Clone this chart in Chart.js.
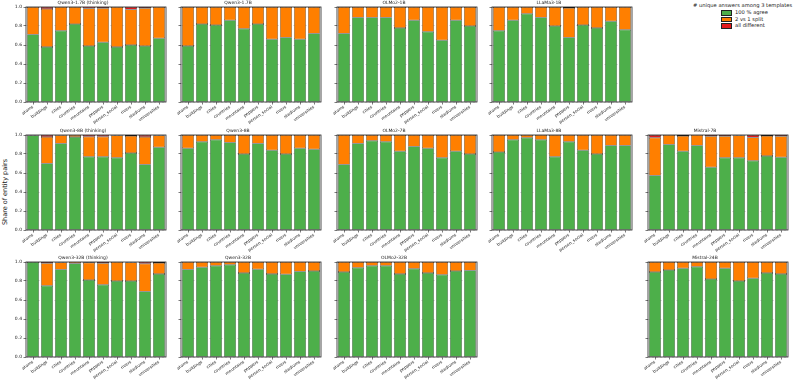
<!DOCTYPE html>
<html>
<head>
<meta charset="utf-8">
<script src="https://cdn.jsdelivr.net/npm/chart.js@4.4.0/dist/chart.umd.min.js"></script>
<style>
  html, body { margin: 0; padding: 0; background: #fff; }
  #fig { position: relative; width: 793px; height: 380px; overflow: hidden; font-family: 'DejaVu Sans', sans-serif; color: #222; }
  #fig canvas { position: absolute; }
  .ylabel { position: absolute; left: 5px; top: 192px; font-size: 6.5px; white-space: nowrap; transform: translate(-50%, -50%) rotate(-90deg); }
  .legend { position: absolute; left: 693px; top: 2px; font-size: 5.2px; }
  .legend .ttl { white-space: nowrap; }
  .legend .item { position: absolute; left: 28px; white-space: nowrap; line-height: 5px; }
  .legend .sw { display: inline-block; width: 9px; height: 3.5px; border: 0.6px solid #222; vertical-align: middle; margin-right: 3px; }
</style>
</head>
<body>
<div id="fig">
  <div class="ylabel">Share of entity pairs</div>
  <div class="legend">
    <div class="ttl"># unique answers among 3 templates</div>
    <div class="item" style="top:8px"><span class="sw" style="background:#4daf4a"></span>100 % agree</div>
    <div class="item" style="top:14.5px"><span class="sw" style="background:#ff7f00"></span>2 vs 1 split</div>
    <div class="item" style="top:21px"><span class="sw" style="background:#e41a1c"></span>all different</div>
  </div>
</div>
<script>
// Категории (общие для всех панелей)
const categories = ['atoms', 'buildings', 'cities', 'countries', 'mountains', 'peppers', 'person_social', 'rivers', 'stadiums', 'universities'];
const seriesNames = ['100 % agree', '2 vs 1 split', 'all different'];
const yTicks = [0.0, 0.2, 0.4, 0.6, 0.8, 1.0];

// Доли по моделям: зелёный / оранжевый / красный
const qwen17bThinkAgree = [0.71, 0.58, 0.75, 0.82, 0.59, 0.63, 0.58, 0.60, 0.59, 0.67];
const qwen17bThinkSplit = [0.29, 0.40, 0.25, 0.18, 0.395, 0.358, 0.42, 0.375, 0.398, 0.33];
const qwen17bThinkDiff  = [0, 0.02, 0, 0, 0.015, 0.012, 0, 0.025, 0.012, 0];

const qwen17bAgree = [0.59, 0.82, 0.81, 0.86, 0.77, 0.82, 0.66, 0.68, 0.66, 0.72];
const qwen17bSplit = [0.41, 0.18, 0.19, 0.14, 0.23, 0.18, 0.34, 0.32, 0.34, 0.28];
const qwen17bDiff  = [0, 0, 0, 0, 0, 0, 0, 0, 0, 0];

const olmo1bAgree = [0.72, 0.89, 0.89, 0.89, 0.78, 0.86, 0.74, 0.65, 0.86, 0.80];
const olmo1bSplit = [0.28, 0.11, 0.11, 0.11, 0.22, 0.14, 0.26, 0.35, 0.14, 0.20];
const olmo1bDiff  = [0, 0, 0, 0, 0, 0, 0, 0, 0, 0];

const llama1bAgree = [0.75, 0.86, 0.93, 0.89, 0.80, 0.68, 0.81, 0.78, 0.85, 0.76];
const llama1bSplit = [0.25, 0.14, 0.07, 0.11, 0.20, 0.31, 0.19, 0.22, 0.15, 0.24];
const llama1bDiff  = [0, 0, 0, 0, 0, 0.01, 0, 0, 0, 0];

const qwen8bThinkAgree = [0.995, 0.70, 0.91, 0.98, 0.77, 0.77, 0.76, 0.81, 0.69, 0.87];
const qwen8bThinkSplit = [0.005, 0.28, 0.087, 0.02, 0.212, 0.212, 0.236, 0.18, 0.29, 0.125];
const qwen8bThinkDiff  = [0, 0.02, 0.003, 0, 0.018, 0.018, 0.004, 0.01, 0.02, 0.005];

const qwen8bAgree = [0.86, 0.93, 0.95, 0.92, 0.80, 0.91, 0.84, 0.80, 0.86, 0.85];
const qwen8bSplit = [0.14, 0.07, 0.05, 0.08, 0.20, 0.09, 0.16, 0.20, 0.14, 0.15];
const qwen8bDiff  = [0, 0, 0, 0, 0, 0, 0, 0, 0, 0];

const olmo7bAgree = [0.69, 0.91, 0.94, 0.93, 0.83, 0.88, 0.86, 0.76, 0.83, 0.80];
const olmo7bSplit = [0.31, 0.09, 0.06, 0.07, 0.17, 0.12, 0.14, 0.24, 0.17, 0.20];
const olmo7bDiff  = [0, 0, 0, 0, 0, 0, 0, 0, 0, 0];

const llama8bAgree = [0.82, 0.95, 0.97, 0.95, 0.77, 0.93, 0.84, 0.80, 0.89, 0.89];
const llama8bSplit = [0.18, 0.05, 0.03, 0.05, 0.23, 0.07, 0.16, 0.20, 0.11, 0.11];
const llama8bDiff  = [0, 0, 0, 0, 0, 0, 0, 0, 0, 0];

const mistral7bAgree = [0.575, 0.90, 0.83, 0.89, 0.66, 0.76, 0.76, 0.73, 0.78, 0.765];
const mistral7bSplit = [0.397, 0.10, 0.16, 0.11, 0.326, 0.226, 0.236, 0.245, 0.21, 0.221];
const mistral7bDiff  = [0.028, 0, 0.01, 0, 0.014, 0.014, 0.004, 0.025, 0.01, 0.014];

const qwen32bThinkAgree = [1.0, 0.75, 0.92, 0.985, 0.81, 0.76, 0.80, 0.80, 0.69, 0.875];
const qwen32bThinkSplit = [0, 0.236, 0.076, 0.015, 0.183, 0.226, 0.20, 0.196, 0.292, 0.115];
const qwen32bThinkDiff  = [0, 0.014, 0.004, 0, 0.007, 0.014, 0, 0.004, 0.018, 0.01];

const qwen32bAgree = [0.92, 0.945, 0.96, 0.97, 0.885, 0.925, 0.875, 0.87, 0.90, 0.905];
const qwen32bSplit = [0.08, 0.055, 0.04, 0.03, 0.115, 0.075, 0.125, 0.13, 0.10, 0.095];
const qwen32bDiff  = [0, 0, 0, 0, 0, 0, 0, 0, 0, 0];

const olmo32bAgree = [0.895, 0.94, 0.96, 0.96, 0.875, 0.93, 0.885, 0.865, 0.905, 0.91];
const olmo32bSplit = [0.105, 0.06, 0.04, 0.04, 0.125, 0.07, 0.115, 0.135, 0.095, 0.09];
const olmo32bDiff  = [0, 0, 0, 0, 0, 0, 0, 0, 0, 0];

const mistral24bAgree = [0.895, 0.915, 0.935, 0.95, 0.82, 0.935, 0.80, 0.83, 0.885, 0.875];
const mistral24bSplit = [0.105, 0.085, 0.065, 0.05, 0.18, 0.065, 0.20, 0.17, 0.115, 0.125];
const mistral24bDiff  = [0, 0, 0, 0, 0, 0, 0, 0, 0, 0];

// Панели: заголовок, данные, строка и столбец сетки
const panels = [
    { title: 'Qwen3-1.7B (thinking)', data: [qwen17bThinkAgree, qwen17bThinkSplit, qwen17bThinkDiff], row: 0, col: 0 },
    { title: 'Qwen3-1.7B', data: [qwen17bAgree, qwen17bSplit, qwen17bDiff], row: 0, col: 1 },
    { title: 'OLMo2-1B', data: [olmo1bAgree, olmo1bSplit, olmo1bDiff], row: 0, col: 2 },
    { title: 'LLaMa3-1B', data: [llama1bAgree, llama1bSplit, llama1bDiff], row: 0, col: 3 },
    { title: 'Qwen3-8B (thinking)', data: [qwen8bThinkAgree, qwen8bThinkSplit, qwen8bThinkDiff], row: 1, col: 0 },
    { title: 'Qwen3-8B', data: [qwen8bAgree, qwen8bSplit, qwen8bDiff], row: 1, col: 1 },
    { title: 'OLMo2-7B', data: [olmo7bAgree, olmo7bSplit, olmo7bDiff], row: 1, col: 2 },
    { title: 'LLaMa3-8B', data: [llama8bAgree, llama8bSplit, llama8bDiff], row: 1, col: 3 },
    { title: 'Mistral-7B', data: [mistral7bAgree, mistral7bSplit, mistral7bDiff], row: 1, col: 4 },
    { title: 'Qwen3-32B (thinking)', data: [qwen32bThinkAgree, qwen32bThinkSplit, qwen32bThinkDiff], row: 2, col: 0 },
    { title: 'Qwen3-32B', data: [qwen32bAgree, qwen32bSplit, qwen32bDiff], row: 2, col: 1 },
    { title: 'OLMo2-32B', data: [olmo32bAgree, olmo32bSplit, olmo32bDiff], row: 2, col: 2 },
    { title: 'Mistral-24B', data: [mistral24bAgree, mistral24bSplit, mistral24bDiff], row: 2, col: 4 }
];

// Геометрия сетки (пиксели)
const colLeft = [26, 181, 337, 492, 648];
const rowTop = [7, 135, 262];
const PLOT_W = 140, PLOT_H = 95;
const PAD_L = 26, PAD_R = 4, PAD_T = 8, PAD_B = 24;
const colors = ['#4daf4a', '#ff7f00', '#e41a1c'];
const FONT = 'DejaVu Sans';

// Рамка вокруг области графика (как spines в matplotlib)
const framePlugin = {
    id: 'frame',
    afterDatasetsDraw(chart) {
        const { ctx, chartArea: a } = chart;
        ctx.save();
        ctx.strokeStyle = '#222';
        ctx.lineWidth = 0.8;
        ctx.strokeRect(a.left, a.top, a.right - a.left, a.bottom - a.top);
        ctx.restore();
    }
};

const fig = document.getElementById('fig');

panels.forEach(p => {
    const canvas = document.createElement('canvas');
    canvas.width = PAD_L + PLOT_W + PAD_R;
    canvas.height = PAD_T + PLOT_H + PAD_B;
    canvas.style.left = (colLeft[p.col] - PAD_L) + 'px';
    canvas.style.top = (rowTop[p.row] - PAD_T) + 'px';
    fig.appendChild(canvas);

    const showY = p.col === 0;

    new Chart(canvas, {
        type: 'bar',
        data: {
            labels: categories,
            datasets: p.data.map((values, i) => ({
                label: seriesNames[i],
                data: values,
                backgroundColor: colors[i],
                borderColor: '#111',
                borderWidth: 0.5,
                borderSkipped: false,
                barPercentage: 0.85,
                categoryPercentage: 1.0
            }))
        },
        options: {
            responsive: false,
            animation: false,
            layout: { padding: { top: 0, right: PAD_R, bottom: 0, left: 0 } },
            plugins: {
                legend: { display: false },
                tooltip: { enabled: false },
                title: {
                    display: true,
                    text: p.title,
                    color: '#222',
                    font: { family: FONT, size: 4.5, weight: 'normal', lineHeight: 1 },
                    padding: { top: 1.5, bottom: 2 }
                }
            },
            scales: {
                x: {
                    stacked: true,
                    offset: true,
                    afterFit: s => { s.height = PAD_B; },
                    ticks: {
                        autoSkip: false, maxRotation: 35, minRotation: 35, padding: 0,
                        color: '#222', font: { family: FONT, size: 4.2 }
                    },
                    grid: { display: true, drawOnChartArea: false, offset: false, tickLength: 2.5, tickColor: '#222', tickWidth: 0.6 },
                    border: { display: false }
                },
                y: {
                    stacked: true,
                    min: yTicks[0],
                    max: yTicks[yTicks.length - 1],
                    afterFit: s => { s.width = PAD_L; },
                    afterBuildTicks: s => { s.ticks = yTicks.map(v => ({ value: v })); },
                    ticks: {
                        display: showY, padding: 1.5, color: '#222',
                        font: { family: FONT, size: 4.5 },
                        callback: v => v.toFixed(1)
                    },
                    grid: { color: '#cfcfcf', lineWidth: 0.6, tickColor: '#222', tickLength: 2.5, tickWidth: 0.6, tickBorderDash: [] },
                    border: { display: false, dash: [2, 2] }
                }
            }
        },
        plugins: [framePlugin]
    });
});
</script>
</body>
</html>
